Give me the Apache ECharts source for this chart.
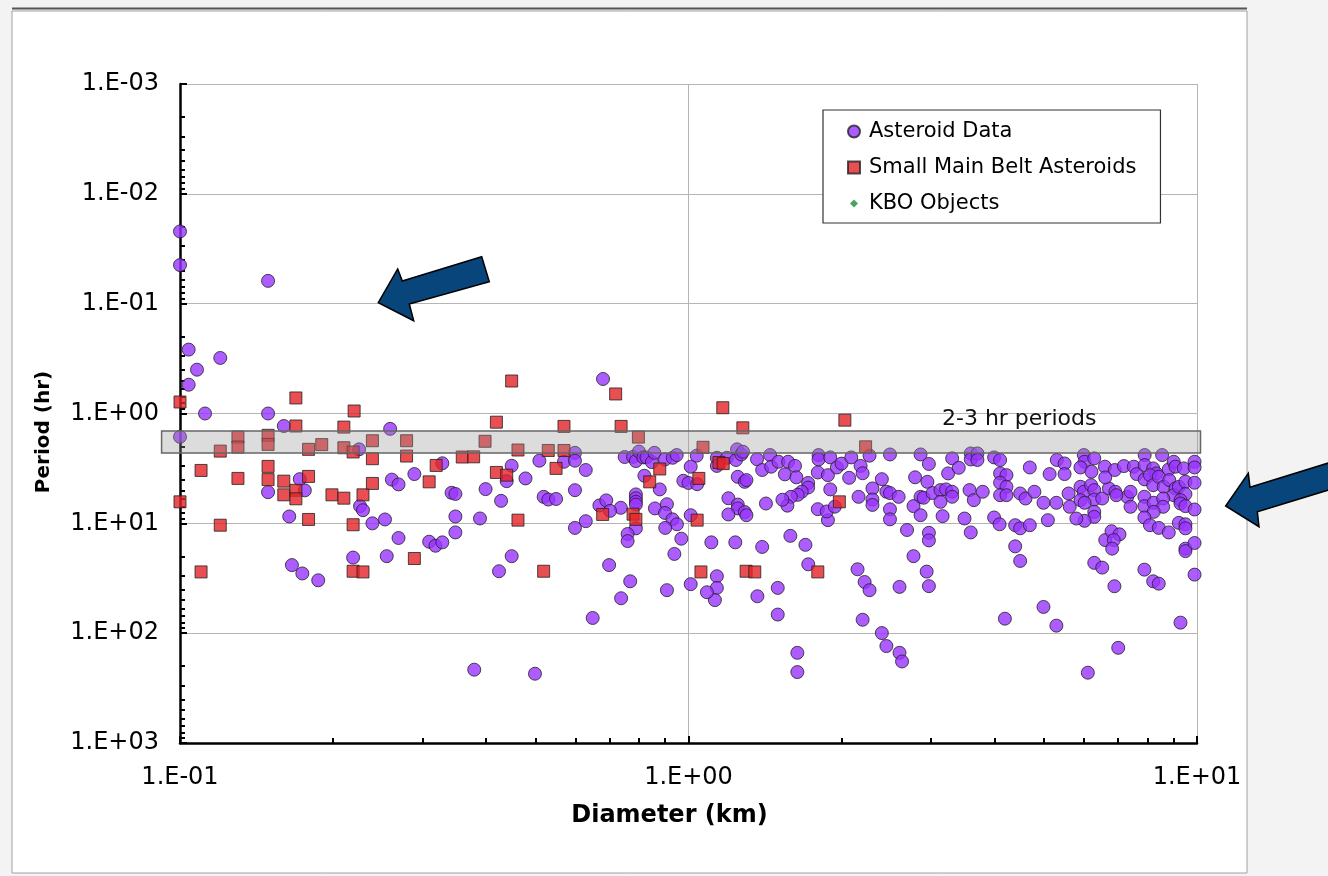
<!DOCTYPE html>
<html>
<head>
<meta charset="utf-8">
<script src="https://cdn.jsdelivr.net/npm/echarts@6/dist/echarts.min.js"></script>
<style>
html,body{margin:0;padding:0;background:#f3f3f3;}
#chart{width:1328px;height:876px;}
</style>
</head>
<body>
<div id="chart"></div>
<script>
// ---------- axis ticks ----------
const xMajorValues = [0.1, 1, 10];
const xTickLabels = ['1.E-01', '1.E+00', '1.E+01'];
const yMajorValues = [0.001, 0.01, 0.1, 1, 10, 100, 1000];
const yTickLabels = ['1.E-03', '1.E-02', '1.E-01', '1.E+00', '1.E+01', '1.E+02', '1.E+03'];
const minorMultipliers = [2, 3, 4, 5, 6, 7, 8, 9];

// ---------- series: [diameter km, period hr] ----------
const asteroidData = [
  [0.100,0.022],[0.100,0.0445],[0.149,0.062],[0.104,0.262],[0.120,0.312],[0.108,0.399],[0.104,0.547],
  [0.112,1.00],[0.149,1.00],[0.160,1.30],[0.100,1.63],[0.259,1.38],[0.225,2.12],[0.328,2.84],[0.449,2.99],
  [0.172,3.96],[0.261,4.00],[0.269,4.42],[0.289,3.56],[0.439,4.13],[0.149,5.20],[0.176,5.01],[0.342,5.27],
  [0.348,5.40],[0.399,4.88],[0.428,6.24],[0.164,8.66],[0.226,6.97],[0.229,7.59],[0.239,10.0],[0.253,9.22],
  [0.348,8.66],[0.389,9.03],[0.269,13.6],[0.309,14.7],[0.318,16.0],[0.328,14.9],[0.348,12.1],[0.166,24.0],
  [0.174,28.6],[0.187,33.0],[0.219,20.5],[0.255,19.9],[0.424,27.3],[0.449,19.9],
  [0.679,0.485],[0.478,3.90],[0.509,2.69],[0.569,2.75],[0.598,2.28],[0.598,2.69],[0.628,3.27],[0.598,4.99],
  [0.598,11.0],[0.628,9.56],[0.519,5.74],[0.530,6.07],[0.549,6.00],[0.379,215],[0.499,234],[0.749,2.49],
  [0.778,2.48],[0.788,2.71],[0.799,2.22],[0.815,2.51],[0.827,2.51],[0.847,2.77],[0.857,2.28],[0.899,2.62],
  [0.931,2.53],[0.948,2.39],[1.01,3.05],[0.819,3.69],[0.878,4.91],[0.977,4.10],[1.00,4.29],[0.736,7.22],
  [0.788,5.45],[0.788,5.91],[0.788,6.37],[0.788,6.75],[0.788,11.1],[0.759,12.5],[0.759,14.5],[0.668,6.87],
  [0.689,6.18],[0.701,7.70],[0.859,7.31],[0.907,6.70],[0.899,8.04],[0.930,9.20],[0.949,10.2],[0.900,11.0],
  [0.968,13.8],[0.938,19.0],[1.01,35.8],[0.907,40.6],[0.698,24.0],[0.768,33.7],[0.737,48.1],[0.648,72.7],
  [1.01,8.43],
  [1.246,2.12],[1.038,2.42],[1.04,4.40],[1.137,2.53],[1.137,3.00],[1.19,2.53],[1.24,2.65],[1.27,2.36],
  [1.28,2.23],[1.25,3.77],[1.29,4.19],[1.30,4.04],[1.198,5.91],[1.25,6.75],[1.25,7.31],[1.29,7.90],
  [1.30,8.43],[1.198,8.30],[1.109,14.9],[1.236,14.9],[1.396,16.4],[1.137,30.3],[1.137,38.7],[1.127,50.0],
  [1.087,42.4],[1.366,46.1],[1.498,38.7],[1.498,67.7],[1.637,151],[1.637,226],[1.364,2.61],[1.396,3.27],
  [1.447,2.39],[1.454,3.05],[1.503,2.75],[1.57,2.75],[1.62,3.00],[1.547,3.58],[1.63,3.81],[1.719,4.29],
  [1.719,4.72],[1.67,5.15],[1.64,5.50],[1.59,5.74],[1.565,6.90],[1.53,6.10],[1.42,6.60],[1.586,13.0],
  [1.698,15.7],[1.72,23.6],[1.802,2.39],[1.802,2.62],[1.90,2.51],[1.796,3.44],[1.88,3.64],[1.90,4.91],
  [1.796,7.43],[1.88,9.35],[1.87,7.80],[1.958,3.10],[2.00,2.86],[1.94,7.05],[2.07,3.85],[2.09,2.51],
  [2.18,3.00],[2.20,3.50],[2.27,2.42],[2.16,5.74],[2.30,4.81],[2.30,6.07],[2.30,6.80],[2.15,26.2],
  [2.22,34.2],[2.27,40.6],[2.20,75.5],[2.40,99.8],[2.45,131],[2.60,151],[2.63,181],[2.40,3.96],
  [2.45,5.15],[2.49,5.30],[2.49,2.36],[2.59,5.74],[2.49,7.45],[2.49,9.20],[2.69,11.5],[2.77,19.9],
  [2.94,27.5],[2.97,37.3],[2.60,37.9],[2.86,2.36],[2.97,2.88],[2.79,3.81],[2.95,4.19],[2.86,5.74],
  [2.90,5.85],[2.77,6.97],[2.86,8.43],[3.02,5.30],[2.97,12.2],[2.97,14.3],
  [3.30,2.56],[3.59,2.31],[3.59,2.62],[3.70,2.31],[3.70,2.65],[3.99,2.51],[4.10,2.65],[4.69,3.10],
  [5.30,2.65],[5.49,2.85],[5.99,2.39],[6.01,2.75],[6.28,2.56],[5.90,3.10],[6.20,3.39],[6.59,3.05],
  [6.89,3.27],[7.18,3.01],[7.51,3.05],[7.61,3.56],[7.89,2.39],[7.89,2.95],[8.20,3.16],[8.54,2.39],
  [8.32,3.51],[8.80,3.23],[9.00,2.75],[9.07,3.05],[9.42,3.16],[9.89,2.75],[9.89,3.10],[3.24,3.51],
  [3.40,3.12],[3.13,4.98],[3.21,4.91],[3.30,5.16],[3.30,5.73],[3.13,6.37],[3.57,4.98],[3.64,6.15],
  [3.79,5.16],[4.10,3.51],[4.22,3.64],[4.10,4.27],[4.22,4.65],[4.10,5.54],[4.22,5.54],[4.49,5.35],
  [4.60,5.94],[4.79,5.16],[5.13,3.56],[5.49,3.56],[4.99,6.50],[5.29,6.50],[5.59,5.35],[5.62,7.07],
  [5.90,4.65],[5.99,5.16],[6.19,4.49],[6.28,4.98],[6.28,6.06],[6.51,5.94],[5.90,6.15],[6.01,6.50],
  [6.71,4.81],[6.91,5.16],[7.29,5.73],[7.40,5.16],[6.60,3.82],[7.89,3.98],[8.08,3.64],[8.20,4.49],
  [8.41,3.77],[8.60,4.65],[8.82,4.04],[9.07,4.81],[9.00,5.54],[9.21,4.65],[9.49,4.18],[9.89,4.27],
  [9.49,5.42],[9.28,6.15],[7.88,5.73],[7.88,6.97],[8.22,6.50],[8.58,5.94],[8.58,7.07],[8.22,7.86],
  [9.28,6.60],[9.49,6.97],[9.89,7.48],[7.40,7.07],[6.28,7.86],[6.28,8.73],[6.01,9.49],[5.79,9.04],
  [6.94,5.54],[3.16,8.60],[3.49,9.04],[3.59,12.1],[3.99,8.85],[4.09,10.2],[4.39,10.4],[4.49,11.1],
  [4.69,10.4],[5.09,9.36],[7.88,8.85],[8.08,10.4],[8.41,11.0],[8.80,12.1],[9.21,9.90],[9.49,10.2],
  [9.49,11.1],[6.60,14.2],[6.79,11.8],[7.04,12.6],[6.86,14.2],[6.81,17.0],[4.39,16.2],[4.49,22.0],
  [6.28,22.9],[6.51,25.3],[7.88,26.4],[8.20,33.7],[8.41,35.4],[6.88,37.4],[9.49,17.0],[9.49,17.9],
  [9.89,15.1],[9.89,29.3],[4.99,57.7],[5.29,85.4],[4.19,73.8],[9.28,80.2],[7.00,136],[6.10,229]
];

const smallMainBeltData = [
  [0.100,0.786],[0.169,0.722],[0.220,0.949],[0.449,0.506],[0.169,1.30],[0.210,1.33],[0.419,1.20],
  [0.130,1.64],[0.130,2.02],[0.149,1.58],[0.149,1.91],[0.120,2.20],[0.179,2.12],[0.190,1.92],[0.210,2.05],
  [0.219,2.24],[0.239,1.77],[0.279,1.77],[0.398,1.79],[0.462,2.15],[0.110,3.30],[0.100,6.37],[0.130,3.90],
  [0.149,3.03],[0.149,4.00],[0.160,4.13],[0.160,5.50],[0.169,5.00],[0.169,5.98],[0.179,3.74],[0.120,10.4],
  [0.179,9.22],[0.219,10.3],[0.199,5.50],[0.210,5.90],[0.229,5.50],[0.239,2.58],[0.239,4.33],[0.279,2.44],
  [0.319,2.97],[0.309,4.19],[0.359,2.49],[0.378,2.48],[0.419,3.44],[0.439,3.64],[0.462,9.35],[0.110,27.7],
  [0.219,27.3],[0.229,27.7],[0.289,20.9],
  [0.719,0.664],[0.569,1.31],[0.737,1.31],[0.797,1.64],[0.530,2.17],[0.569,2.17],[0.549,3.16],[0.878,3.20],
  [0.839,4.19],[0.778,8.25],[0.788,9.20],[0.519,27.3],[0.678,8.30],
  [1.168,0.886],[1.279,1.35],[2.03,1.15],[1.068,2.03],[2.23,2.01],[1.148,2.79],[1.17,2.86],[1.048,3.90],
  [1.04,9.35],[1.98,6.37],[1.058,27.7],[1.298,27.3],[1.35,27.7],[1.796,27.7]
];

const kboData = [];

// ---------- annotation band ----------
const bandDiameter = [0.092, 10.16];
const bandPeriod = [1.44, 2.29];
const bandLabel = '2-3 hr periods';
const bandLabelDiameter = 4.47;

function withMinors(majors) {
  const out = [];
  for (let i = 0; i < majors.length - 1; i++) {
    minorMultipliers.forEach(m => out.push(parseFloat((majors[i] * m).toPrecision(6))));
  }
  return out;
}
const xMinorValues = withMinors(xMajorValues);
const yMinorValues = withMinors(yMajorValues);

function labelFor(values, labels) {
  return function (v) {
    let best = 0, bd = Infinity;
    values.forEach((mv, i) => {
      const d = Math.abs(Math.log10(v) - Math.log10(mv));
      if (d < bd) { bd = d; best = i; }
    });
    return labels[best];
  };
}

const FONT = 'DejaVu Sans';
const chart = echarts.init(document.getElementById('chart'), null, { renderer: 'canvas' });

const option = {
  backgroundColor: '#f3f3f3',
  animation: false,
  grid: { left: 180, top: 84, right: 131, bottom: 133, containLabel: false },
  legend: {
    orient: 'vertical',
    left: 823, top: 110,
    padding: [11, 24, 9, 24],
    itemGap: 15,
    itemWidth: 12, itemHeight: 12,
    backgroundColor: '#ffffff',
    borderColor: '#333333', borderWidth: 1.2, borderRadius: 0,
    textStyle: { fontFamily: FONT, fontSize: 21, color: '#000', padding: [0, 0, 0, 4] },
    selectedMode: false,
    data: [
      { name: 'Asteroid Data', icon: 'circle' },
      { name: 'Small Main Belt Asteroids', icon: 'rect' },
      { name: 'KBO Objects', icon: 'path://M0,0 M12,12 M6,2 L10,6 L6,10 L2,6 Z' }
    ]
  },
  xAxis: [{
    type: 'log', logBase: 10, min: 0.1, max: 10,
    name: 'Diameter (km)', nameLocation: 'middle', nameGap: 61,
    nameTextStyle: { fontFamily: FONT, fontWeight: 'bold', fontSize: 24, color: '#000', padding: [0, 38, 0, 0] },
    axisLine: { show: true, onZero: false, lineStyle: { color: '#000', width: 2.5 } },
    axisTick: { show: true, inside: true, length: 7, customValues: xMajorValues, lineStyle: { color: '#000', width: 2 } },
    axisLabel: { customValues: xMajorValues, formatter: labelFor(xMajorValues, xTickLabels), fontFamily: FONT, fontSize: 24, color: '#000', margin: 23 },
    splitLine: { show: true, lineStyle: { color: '#b5b5b5', width: 1 } },
    minorTick: { show: false }
  }, {
    type: 'log', logBase: 10, min: 0.1, max: 10, position: 'bottom', gridIndex: 0,
    axisLine: { show: false },
    axisTick: { show: true, inside: true, length: 5, customValues: xMinorValues, lineStyle: { color: '#000', width: 2 } },
    axisLabel: { show: false },
    splitLine: { show: false }
  }],
  yAxis: [{
    type: 'log', logBase: 10, min: 0.001, max: 1000, inverse: true,
    name: 'Period (hr)', nameLocation: 'middle', nameGap: 126, nameRotate: 90,
    nameTextStyle: { fontFamily: FONT, fontWeight: 'bold', fontSize: 20, color: '#000', padding: [0, 37, 0, 0] },
    axisLine: { show: true, onZero: false, lineStyle: { color: '#000', width: 2.5 } },
    axisTick: { show: true, inside: true, length: 7, customValues: yMajorValues, lineStyle: { color: '#000', width: 2 } },
    axisLabel: { customValues: yMajorValues, formatter: labelFor(yMajorValues, yTickLabels), fontFamily: FONT, fontSize: 24, color: '#000', margin: 21 },
    splitLine: { show: true, lineStyle: { color: '#b5b5b5', width: 1 } }
  }, {
    type: 'log', logBase: 10, min: 0.001, max: 1000, inverse: true, position: 'left', gridIndex: 0,
    axisLine: { show: false },
    axisTick: { show: true, inside: true, length: 5, customValues: yMinorValues, lineStyle: { color: '#000', width: 2 } },
    axisLabel: { show: false },
    splitLine: { show: false }
  }],
  series: [
    {
      name: 'Asteroid Data', type: 'scatter', xAxisIndex: 0, yAxisIndex: 0,
      symbol: 'circle', symbolSize: 13, clip: false, z: 2,
      itemStyle: { color: '#9933ff', borderColor: '#222', borderWidth: 1 },
      data: asteroidData
    },
    {
      name: 'Small Main Belt Asteroids', type: 'scatter', xAxisIndex: 0, yAxisIndex: 0,
      symbol: 'rect', symbolSize: 12, clip: false, z: 3,
      itemStyle: { color: '#e42327', borderColor: '#222', borderWidth: 1 },
      data: smallMainBeltData
    },
    {
      name: 'KBO Objects', type: 'scatter', xAxisIndex: 0, yAxisIndex: 0,
      symbol: 'diamond', symbolSize: 9, clip: false, z: 3,
      itemStyle: { color: '#1e8a3c', borderWidth: 0 },
      data: kboData
    }
  ]
};
chart.setOption(option);

// ---------- overlays positioned through the axes ----------
const finder = { xAxisIndex: 0, yAxisIndex: 0 };
const p0 = chart.convertToPixel(finder, [bandDiameter[0], bandPeriod[0]]);
const p1 = chart.convertToPixel(finder, [bandDiameter[1], bandPeriod[1]]);
const pl = chart.convertToPixel(finder, [bandLabelDiameter, bandPeriod[0]]);
const bx = Math.min(p0[0], p1[0]), by = Math.min(p0[1], p1[1]);
const bw = Math.abs(p1[0] - p0[0]), bh = Math.abs(p1[1] - p0[1]);

chart.setOption({
  graphic: [
    { type: 'rect', z: -10, silent: true, shape: { x: 12, y: 11, width: 1235, height: 862 },
      style: { fill: '#ffffff', stroke: '#a0a0a0', lineWidth: 1 } },
    { type: 'line', z: -9, silent: true, shape: { x1: 12, y1: 8.5, x2: 1247, y2: 8.5 },
      style: { stroke: '#555', lineWidth: 2 } },
    { type: 'rect', z: 50, silent: true, shape: { x: bx, y: by, width: bw, height: bh },
      style: { fill: 'rgba(150,150,150,0.33)', stroke: '#666', lineWidth: 1.5 } },
    { type: 'text', z: 50, silent: true, x: pl[0], y: by - 1,
      style: { text: bandLabel, fontFamily: FONT, fontSize: 22, fill: '#111', align: 'center', verticalAlign: 'bottom' } },
    { type: 'polygon', z: 60, silent: true,
      shape: { points: [[378.3,302.7],[397.7,269],[402.3,281],[481.7,256.7],[489.3,281.7],[409.3,304],[413.7,320.7]] },
      style: { fill: '#08457a', stroke: '#000', lineWidth: 1.5 } },
    { type: 'polygon', z: 60, silent: true,
      shape: { points: [[1225.7,506],[1248.3,473.3],[1250,487.3],[1330,462.5],[1330,489.5],[1257.3,511.7],[1259,526.7]] },
      style: { fill: '#08457a', stroke: '#000', lineWidth: 1.5 } }
  ]
});
</script>
</body>
</html>
